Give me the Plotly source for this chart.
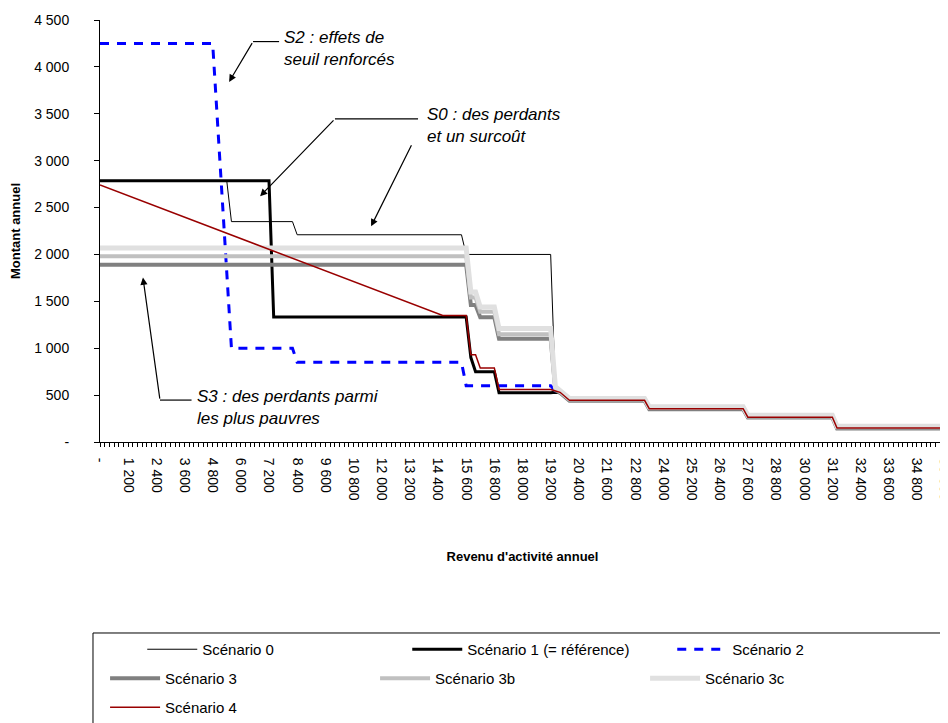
import plotly.graph_objects as go

# revenu d'activite annuel (x) / montant annuel (y) - points de rupture de chaque scenario
x_s0 = [0, 5400, 5600, 8200, 8400, 15400, 15600, 19200, 19400, 19600, 20000, 23200, 23400, 27400, 27600, 31200, 31400, 36000]
y_s0 = [2785, 2785, 2350, 2350, 2210, 2210, 2000, 2000, 560, 530, 445, 445, 355, 355, 265, 265, 150, 150]

x_s1 = [0, 7200, 7400, 15600, 15800, 16000, 16800, 17000, 19200, 19400, 19600, 20000, 23200, 23400, 27400, 27600, 31200, 31400, 36000]
y_s1 = [2785, 2785, 1333, 1333, 900, 750, 750, 525, 525, 530, 525, 445, 445, 355, 355, 265, 265, 150, 150]

x_s2 = [0, 4800, 5600, 8200, 8400, 15400, 15600, 19200, 19400, 19600, 20000, 23200, 23400, 27400, 27600, 31200, 31400, 36000]
y_s2 = [4250, 4250, 1000, 1000, 850, 850, 600, 600, 545, 530, 445, 445, 355, 355, 265, 265, 150, 150]

x_s3 = [0, 15600, 15800, 16000, 16200, 16800, 17000, 19200, 19400, 19600, 20000, 23200, 23400, 27400, 27600, 31200, 31400, 36000]
y_s3 = [1890, 1890, 1460, 1460, 1330, 1330, 1100, 1100, 555, 525, 440, 440, 350, 350, 260, 260, 145, 145]
y_s3b = [1980, 1980, 1540, 1540, 1390, 1390, 1150, 1150, 570, 535, 452, 452, 362, 362, 272, 272, 157, 157]
y_s3c = [2070, 2070, 1600, 1600, 1440, 1440, 1210, 1210, 590, 550, 465, 465, 375, 375, 285, 285, 168, 168]

x_s4 = [0, 14600, 15600, 15800, 16000, 16200, 16800, 17000, 19200, 19400, 19600, 20000, 23200, 23400, 27400, 27600, 31200, 31400, 36000]
y_s4 = [2740, 1350, 1350, 930, 930, 790, 790, 560, 560, 545, 530, 445, 445, 355, 355, 265, 265, 150, 150]

x_ticks = list(range(0, 36001, 1200))
x_labels = ['-' if v == 0 else f'{v:,}'.replace(',', ' ') for v in x_ticks]
y_ticks = [0, 500, 1000, 1500, 2000, 2500, 3000, 3500, 4000, 4500]
y_labels = ['-', '500', '1 000', '1 500', '2 000', '2 500', '3 000', '3 500', '4 000', '4 500']

font_name = 'Arial, Liberation Sans, sans-serif'

fig = go.Figure()
fig.add_trace(go.Scatter(x=x_s0, y=y_s0, mode='lines', name='Scénario 0',
                         line=dict(color='black', width=1), legend='legend'))
fig.add_trace(go.Scatter(x=x_s1, y=y_s1, mode='lines', name='Scénario 1 (= référence)',
                         line=dict(color='black', width=3), legend='legend'))
fig.add_trace(go.Scatter(x=x_s2, y=y_s2, mode='lines', name='Scénario 2',
                         line=dict(color='#0000FF', width=3, dash='9px,8px'), legend='legend'))
fig.add_trace(go.Scatter(x=x_s3, y=y_s3, mode='lines', name='Scénario 3',
                         line=dict(color='#808080', width=4), legend='legend2'))
fig.add_trace(go.Scatter(x=x_s3, y=y_s3b, mode='lines', name='Scénario 3b',
                         line=dict(color='#C0C0C0', width=4), legend='legend2'))
fig.add_trace(go.Scatter(x=x_s3, y=y_s3c, mode='lines', name='Scénario 3c',
                         line=dict(color='#E0E0E0', width=5), legend='legend2'))
fig.add_trace(go.Scatter(x=x_s4, y=y_s4, mode='lines', name='Scénario 4',
                         line=dict(color='#990000', width=1.5), legend='legend3'))

legend_style = dict(orientation='h', xanchor='left', yanchor='top', bgcolor='rgba(0,0,0,0)',
                    font=dict(family=font_name, size=15, color='black'), traceorder='normal',
                    itemwidth=50)

fig.update_layout(
    autosize=False,
    width=948,
    height=723,
    margin=dict(l=92, r=11, t=12, b=289, autoexpand=False),
    plot_bgcolor='white',
    paper_bgcolor='white',
    font=dict(family=font_name, size=14, color='black'),
    showlegend=True,
    legend=dict(legend_style, x=0.05, y=-0.4526, entrywidth=200),
    legend2=dict(legend_style, x=0.006, y=-0.5213, entrywidth=205),
    legend3=dict(legend_style, x=0.006, y=-0.59, entrywidth=205),
)

fig.update_xaxes(range=[0, 36000], tickvals=x_ticks, ticktext=x_labels, tickangle=90,
                 showgrid=False, zeroline=False, showline=True, linewidth=1, linecolor='black',
                 ticks='outside', ticklen=4, tickwidth=1, tickcolor='black', automargin=False,
                 minor=dict(dtick=200, tick0=0, ticks='outside', ticklen=4, tickcolor='black'),
                 tickfont=dict(size=14), ticklabelstandoff=8,
                 title=dict(text="<b>Revenu d'activité annuel</b>", font=dict(size=13), standoff=52))
fig.update_yaxes(range=[0, 4500], tickvals=y_ticks, ticktext=y_labels, automargin=False,
                 showgrid=False, zeroline=False, showline=True, linewidth=1, linecolor='black',
                 ticks='outside', ticklen=5, tickwidth=1, tickcolor='black',
                 tickfont=dict(size=14), ticklabelstandoff=22,
                 title=dict(text='<b>Montant annuel</b>', font=dict(size=13), standoff=16))

# cadre de la legende
fig.add_shape(type='rect', xref='paper', yref='paper', x0=-0.0083, x1=0.9995, y0=-0.72, y1=-0.4526,
              line=dict(color='black', width=1), fillcolor='rgba(0,0,0,0)', layer='below')

# commentaires avec fleches
note_font = dict(family=font_name, size=17, color='black')
arrow = dict(xref='x', yref='y', axref='x', ayref='y', showarrow=True, arrowhead=2,
             arrowsize=1.2, arrowwidth=1.2, arrowcolor='black', text='')

fig.add_annotation(x=7755, y=4200, xref='x', yref='y', text='<i>S2 : effets de<br>seuil renforcés</i>',
                   showarrow=False, xanchor='left', yanchor='middle', align='left', font=note_font)
fig.add_shape(type='line', x0=6520, x1=7630, y0=4270, y1=4270, line=dict(color='black', width=1.2))
fig.add_annotation(arrow, x=5500, y=3840, ax=6520, ay=4270)

fig.add_annotation(x=13850, y=3376, xref='x', yref='y', text='<i>S0 : des perdants<br>et un surcoût</i>',
                   showarrow=False, xanchor='left', yanchor='middle', align='left', font=note_font)
fig.add_shape(type='line', x0=10010, x1=13550, y0=3445, y1=3445, line=dict(color='black', width=1.2))
fig.add_annotation(arrow, x=6820, y=2620, ax=10010, ay=3445)
fig.add_annotation(arrow, x=11550, y=2300, ax=13300, ay=3180)

fig.add_annotation(x=4050, y=367, xref='x', yref='y', text='<i>S3 : des perdants parmi<br>les plus pauvres</i>',
                   showarrow=False, xanchor='left', yanchor='middle', align='left', font=note_font)
fig.add_shape(type='line', x0=2556, x1=3900, y0=447, y1=447, line=dict(color='black', width=1.2))
fig.add_annotation(arrow, x=1830, y=1754, ax=2556, ay=447)

fig.write_html('out.html')
